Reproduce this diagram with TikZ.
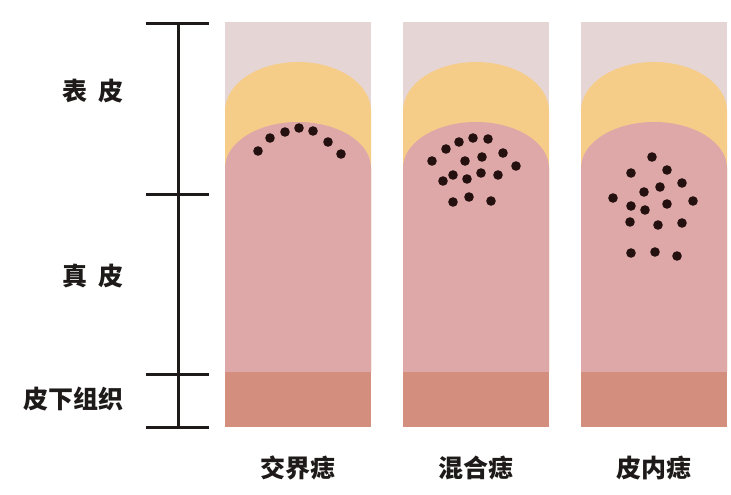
\documentclass[tikz,border=0pt]{standalone}
\usepackage{fontspec}
\newfontfamily\cjk{Noto Sans CJK SC}
\definecolor{skintop}{HTML}{E6D5D5}
\definecolor{epiyellow}{HTML}{F6CD88}
\definecolor{dermis}{HTML}{DEA8A8}
\definecolor{subcut}{HTML}{D48E7E}
\definecolor{ink}{HTML}{1E1A1A}
\definecolor{cellink}{HTML}{24100F}
\tikzset{
  scalebar/.style={draw=ink, line width=3pt},
  layerlabel/.style={font=\cjk\bfseries\fontsize{25}{25}\selectfont, text=ink, inner sep=0pt, anchor=east},
  typelabel/.style={font=\cjk\bfseries\fontsize{25}{25}\selectfont, text=ink, inner sep=0pt},
  cell/.style={fill=cellink},
}
% one skin section: #1 = left edge, #2 = name
\newcommand{\skinsection}[2]{%
  \begin{scope}[xshift=#1pt]
    \fill[skintop] (0,22) rectangle (146,372);
    \fill[epiyellow] (0,372) -- (0,111) arc[start angle=180, end angle=0, x radius=73pt, y radius=49pt] -- (146,372) -- cycle;
    \fill[dermis] (0,372) -- (0,168) arc[start angle=180, end angle=0, x radius=73pt, y radius=46pt] -- (146,372) -- cycle;
    \fill[subcut] (0,372) rectangle (146,427);
    \coordinate (#2) at (73,427);
  \end{scope}}
\newcommand{\cells}[1]{\foreach \p in {#1} \fill[cell] \p circle[radius=4.8pt];}
\begin{document}
\begin{tikzpicture}[x=1pt, y=-1pt]
  \useasboundingbox (0,0) rectangle (731,495);
  \fill[white] (0,0) rectangle (731,495);

  % skin sections
  \skinsection{225}{junction}
  \skinsection{403}{compound}
  \skinsection{581}{intradermal}

  % junctional nevus: cells along the dermo-epidermal junction
  \cells{(258,151),(270,138),(285,132),(299,128),(313,131),(328,142),(341,154)}

  % compound nevus
  \cells{(432,161),(446,149),(459,142),(473,138),(488,139),(503,153),(516,166),
         (465,161),(482,157),(443,181),(453,175),(467,179),(481,173),(498,175),
         (453,202),(469,197),(491,201)}

  % intradermal nevus
  \cells{(652,157),(631,173),(667,170),(682,183),(660,187),(644,192),(613,198),
         (693,201),(631,206),(645,210),(667,204),(630,222),(658,225),(682,223),
         (631,253),(655,252),(677,256)}

  % depth scale
  \coordinate (sTop) at (178,24);
  \coordinate (sEpi) at (178,194);
  \coordinate (sDer) at (178,374);
  \coordinate (sBot) at (178,427);
  \draw[scalebar] (sTop) -- (sBot);
  \foreach \c in {sTop,sEpi,sDer,sBot}
    \draw[scalebar] ([xshift=-32pt]\c) -- ([xshift=31pt]\c);

  % layer names
  \node[layerlabel] (epi) at (124,91) {表\hspace{0.45em}皮};
  \node[layerlabel] (der) at (124,276) {真\hspace{0.45em}皮};
  \node[layerlabel] (sub) at (124,399) {皮下组织};

  % nevus types
  \node[typelabel] (t1) at ([yshift=-41pt]junction) {交界痣};
  \node[typelabel] (t2) at ([yshift=-41pt]compound) {混合痣};
  \node[typelabel] (t3) at ([yshift=-41pt]intradermal) {皮内痣};
\end{tikzpicture}
\end{document}
